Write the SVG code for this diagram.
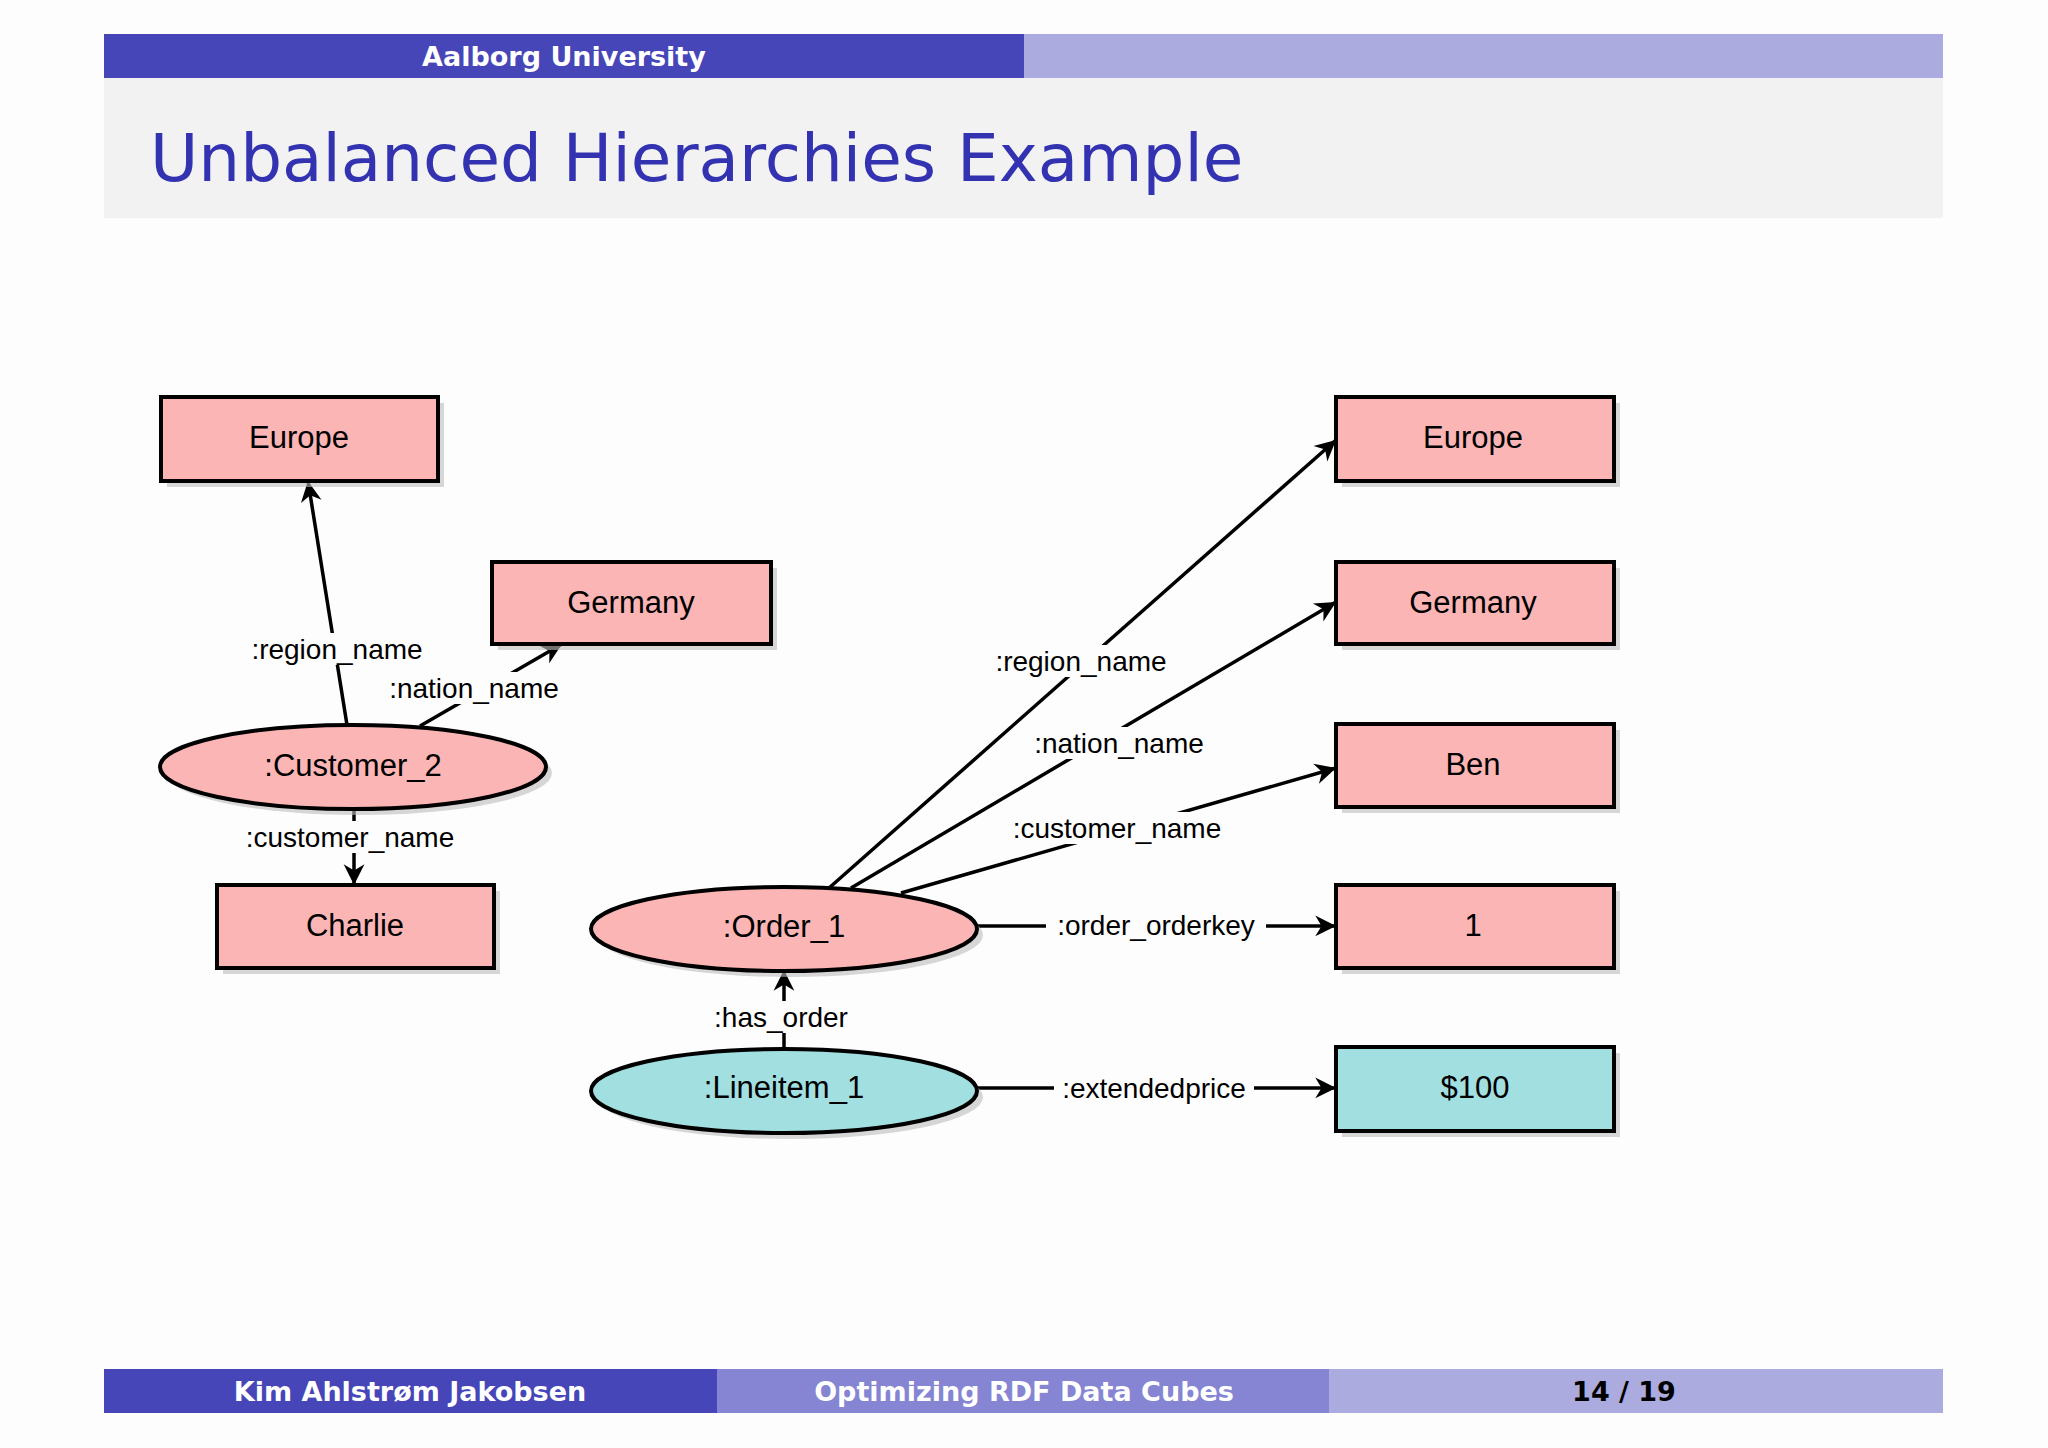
<svg xmlns="http://www.w3.org/2000/svg" width="2048" height="1448" viewBox="0 0 2048 1448">
<style>
.n{stroke:#000;stroke-width:4}
.p{fill:#FBB5B5}.c{fill:#A2DFE0}
.sh{fill:#bdbdbd;opacity:0.6}
.t{font-family:"Liberation Sans",Arial,sans-serif;font-size:31px;text-anchor:middle;dominant-baseline:central}
.l{font-family:"Liberation Sans",Arial,sans-serif;font-size:28px;text-anchor:middle;dominant-baseline:central}
.bg{fill:#fdfdfd}
.e{stroke:#000;stroke-width:3.5;fill:none;marker-end:url(#a)}
.h{font-family:"DejaVu Sans",sans-serif;font-weight:bold;font-size:27px;text-anchor:middle;dominant-baseline:central}
</style>
<defs><marker id="a" viewBox="0 0 10 10" refX="9" refY="5" markerWidth="8" markerHeight="8" markerUnits="userSpaceOnUse" orient="auto" style="overflow:visible"><path d="M0,0 L10,5 L0,10 L3,5 z" transform="scale(2.6) translate(-6.5,-3.1)"/></marker></defs>
<rect width="2048" height="1448" fill="#fdfdfd"/>
<rect x="104" y="34" width="1839" height="44" fill="#ABABE0"/>
<rect x="104" y="34" width="920" height="44" fill="#4646B8"/>
<text x="564" y="56" class="h" fill="#fff">Aalborg University</text>
<rect x="104" y="78" width="1839" height="140" fill="#f2f2f2"/>
<text x="150" y="158" font-family="DejaVu Sans,sans-serif" font-size="66" fill="#3333B2" dominant-baseline="central">Unbalanced Hierarchies Example</text>
<rect x="104" y="1369" width="613" height="44" fill="#4646B8"/>
<rect x="717" y="1369" width="612" height="44" fill="#8585D3"/>
<rect x="1329" y="1369" width="614" height="44" fill="#ABABE0"/>
<text x="410" y="1391" class="h" fill="#fff">Kim Ahlstrøm Jakobsen</text>
<text x="1024" y="1391" class="h" fill="#fff">Optimizing RDF Data Cubes</text>
<text x="1624" y="1391" class="h" fill="#000">14 / 19</text>
<g id="connectors">
<path class="e" d="M347,725 L308,481"/>
<path class="e" d="M420,726 L562,644"/>
<path class="e" d="M354,808 L354,885"/>
<path class="e" d="M829,888 L1336,440"/>
<path class="e" d="M851,888 L1336,602"/>
<path class="e" d="M901,893 L1336,768"/>
<path class="e" d="M977,926 L1336,926"/>
<path class="e" d="M784,1049 L784,970"/>
<path class="e" d="M977,1088 L1336,1088"/>
<rect class="bg" x="245" y="633" width="184" height="32"/><text class="l" x="337" y="649">:region_name</text>
<rect class="bg" x="382" y="672" width="184" height="32"/><text class="l" x="474" y="688">:nation_name</text>
<rect class="bg" x="235" y="821" width="230" height="32"/><text class="l" x="350" y="837">:customer_name</text>
<rect class="bg" x="989" y="645" width="184" height="32"/><text class="l" x="1081" y="661">:region_name</text>
<rect class="bg" x="1027" y="727" width="184" height="32"/><text class="l" x="1119" y="743">:nation_name</text>
<rect class="bg" x="1002" y="812" width="230" height="32"/><text class="l" x="1117" y="828">:customer_name</text>
<rect class="bg" x="1046" y="909" width="220" height="32"/><text class="l" x="1156" y="925">:order_orderkey</text>
<rect class="bg" x="706" y="1001" width="150" height="32"/><text class="l" x="781" y="1017">:has_order</text>
<rect class="bg" x="1054" y="1072" width="200" height="32"/><text class="l" x="1154" y="1088">:extendedprice</text>
</g>
<g id="europeL"><rect class="sh" x="167" y="403" width="277" height="84"/><rect class="n p" x="161" y="397" width="277" height="84"/><text class="t" x="299" y="437">Europe</text></g>
<g id="germanyL"><rect class="sh" x="498" y="568" width="279" height="82"/><rect class="n p" x="492" y="562" width="279" height="82"/><text class="t" x="631" y="602">Germany</text></g>
<g id="customer2"><ellipse class="sh" cx="359" cy="773" rx="193" ry="42"/><ellipse class="n p" cx="353" cy="767" rx="193" ry="42"/><text class="t" x="353" y="765">:Customer_2</text></g>
<g id="charlie"><rect class="sh" x="223" y="891" width="277" height="83"/><rect class="n p" x="217" y="885" width="277" height="83"/><text class="t" x="355" y="925">Charlie</text></g>
<g id="order1"><ellipse class="sh" cx="790" cy="935" rx="193" ry="42"/><ellipse class="n p" cx="784" cy="929" rx="193" ry="42"/><text class="t" x="784" y="926">:Order_1</text></g>
<g id="lineitem1"><ellipse class="sh" cx="790" cy="1097" rx="193" ry="42"/><ellipse class="n c" cx="784" cy="1091" rx="193" ry="42"/><text class="t" x="784" y="1087">:Lineitem_1</text></g>
<g id="europeR"><rect class="sh" x="1342" y="403" width="278" height="84"/><rect class="n p" x="1336" y="397" width="278" height="84"/><text class="t" x="1473" y="437">Europe</text></g>
<g id="germanyR"><rect class="sh" x="1342" y="568" width="278" height="82"/><rect class="n p" x="1336" y="562" width="278" height="82"/><text class="t" x="1473" y="602">Germany</text></g>
<g id="ben"><rect class="sh" x="1342" y="730" width="278" height="83"/><rect class="n p" x="1336" y="724" width="278" height="83"/><text class="t" x="1473" y="764">Ben</text></g>
<g id="one"><rect class="sh" x="1342" y="891" width="278" height="83"/><rect class="n p" x="1336" y="885" width="278" height="83"/><text class="t" x="1473" y="925">1</text></g>
<g id="price"><rect class="sh" x="1342" y="1053" width="278" height="84"/><rect class="n c" x="1336" y="1047" width="278" height="84"/><text class="t" x="1475" y="1087">$100</text></g>
</svg>
